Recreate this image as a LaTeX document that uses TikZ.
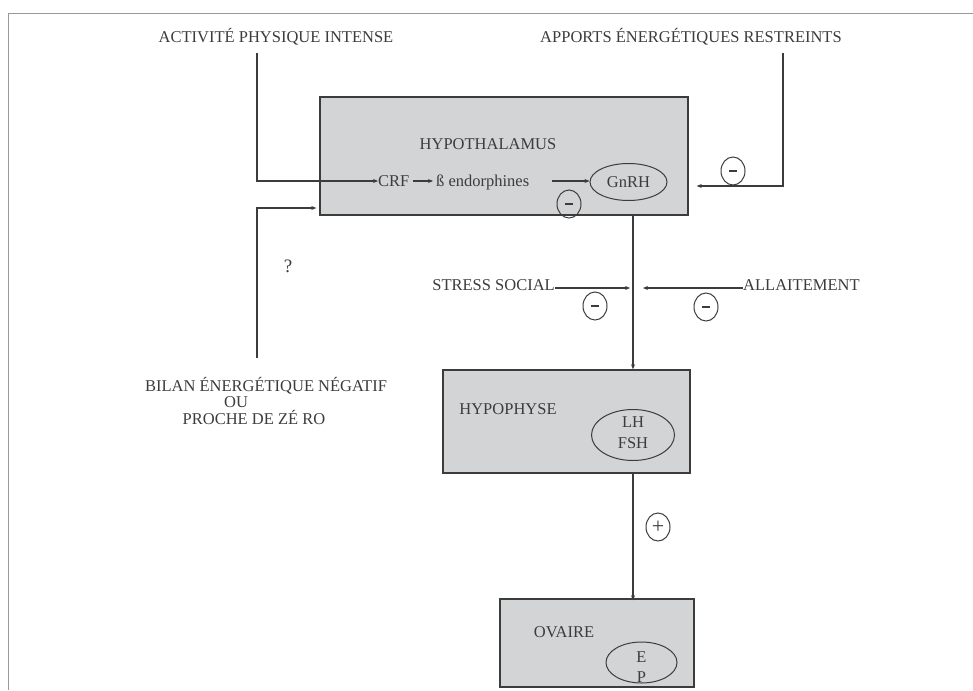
\documentclass[tikz,border=0pt]{standalone}
\usepackage{fontspec}
\setmainfont{Liberation Serif}
\usetikzlibrary{shapes.geometric,arrows.meta}
\definecolor{ink}{HTML}{3C3C3C}
\definecolor{boxfill}{HTML}{D3D4D6}
\definecolor{framec}{HTML}{999999}
\begin{document}
\begin{tikzpicture}[x=1pt,y=-1pt, font=\fontsize{16.5}{16.5}\selectfont, text=ink,
 lbl/.style={inner sep=0pt, anchor=base},
 organ/.style={draw=ink, fill=boxfill, line width=1.4pt, inner sep=0pt},
 hormone/.style={ellipse, draw=ink, line width=1pt, inner sep=0pt},
 sign/.style={ellipse, draw=ink, line width=1pt, minimum width=24pt, minimum height=28pt, inner sep=0pt},
 conn/.style={draw=ink, line width=1.1pt},
 arr/.style={conn, -{Stealth[length=5pt,width=4pt]}}]
\useasboundingbox (0,0) rectangle (973,690);
\fill[white] (0,0) rectangle (973,690);
\draw[framec, line width=1.6pt] (973,13.5) -- (8.5,13.5) -- (8.5,690);

% top labels
\node[lbl] (act) at (276,43) {ACTIVITÉ PHYSIQUE INTENSE};
\node[lbl] (app) at (691,43) {APPORTS ÉNERGÉTIQUES RESTREINTS};
\coordinate (actd) at (257,53);
\coordinate (appd) at (783,53);

% hypothalamus
\node[organ, minimum width=368pt, minimum height=118pt] (hypo) at (504,156) {};
\node[lbl] (hypot) at (488,149) {HYPOTHALAMUS};
\node[lbl, anchor=base west] (crf) at (378,186.5) {CRF};
\node[lbl, anchor=base west] (endo) at (436,186.5) {ß endorphines};
\node[hormone, minimum width=77pt, minimum height=37pt] (gnrh) at (628.5,182) {};
\node[lbl] (gnrht) at (628.5,187.5) {GnRH};
\node[sign] (m1) at (569,204) {\rule{8pt}{2.8pt}};
\coordinate (a2s) at (552,181);
\draw[arr] (crf.east |- 0,181) ++(3,0) -- ([xshift=-3pt]endo.west |- 0,181);
\draw[arr] (a2s) -- (gnrh.west |- a2s);

% left input
\coordinate (k1) at (257,181);
\draw[arr] (actd) -- (k1) -- (crf.west |- k1);
% right input
\coordinate (k2) at (783,186);
\draw[arr] (appd) -- (k2) -- ([xshift=8pt]hypo.east |- k2);
\node[sign] (m2) at (733,171) {\rule{8pt}{2.8pt}};

% bilan
\node[lbl] (bilan1) at (266,391) {BILAN ÉNERGÉTIQUE NÉGATIF};
\node[lbl] (bilan2) at (236,407) {OU};
\node[lbl] (bilan3) at (254,424) {PROCHE DE ZÉ RO};
\coordinate (bu) at (257,358);
\coordinate (k3) at (257,208);
\draw[arr] (bu) -- (k3) -- ([xshift=-3pt]hypo.west |- k3);
\node[lbl, font=\fontsize{19}{19}\selectfont] (q) at (288,272) {?};

% hypophyse
\node[organ, minimum width=247pt, minimum height=103pt] (hypoph) at (566.5,421.5) {};
\node[lbl] (hypopht) at (508,414) {HYPOPHYSE};
\node[hormone, minimum width=83pt, minimum height=51pt] (lh) at (633,435) {};
\node[lbl] (lht) at (633,427) {LH};
\node[lbl] (fsht) at (633,448) {FSH};
\draw[arr] (hypo.south -| 633,0) -- (hypoph.north -| 633,0);

% stress / allaitement
\node[lbl, anchor=base east] (stress) at (555,290) {STRESS SOCIAL};
\node[lbl, anchor=base west] (allait) at (743,290) {ALLAITEMENT};
\draw[arr] (stress.east |- 0,288) -- (630,288);
\draw[arr] (allait.west |- 0,288) -- (643,288);
\node[sign] (m3) at (595,306) {\rule{8pt}{2.8pt}};
\node[sign] (m4) at (706,307) {\rule{8pt}{2.8pt}};

% ovaire
\node[organ, minimum width=194pt, minimum height=88pt] (ov) at (597,643) {};
\node[lbl] (ovt) at (564,637) {OVAIRE};
\node[hormone, minimum width=71pt, minimum height=41pt] (ep) at (641.5,662.5) {};
\node[lbl] (et) at (641.5,662) {E};
\node[lbl] (pt) at (641.5,682) {P};
\draw[arr] (hypoph.south -| 633,0) -- ([yshift=-2pt]ov.north -| 633,0);
\node[sign] (p1) at (658,527) {\fontsize{22}{22}\selectfont +};
\end{tikzpicture}
\end{document}
